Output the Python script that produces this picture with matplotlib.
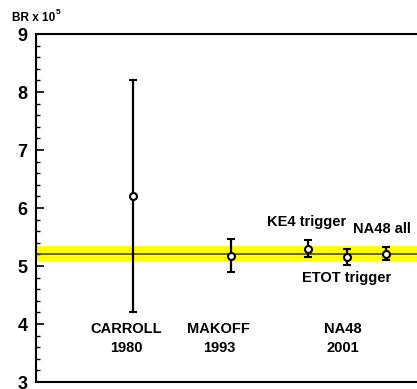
import matplotlib
matplotlib.use('Agg')
import matplotlib.pyplot as plt
from matplotlib.ticker import MultipleLocator

# Mesures du rapport d'embranchement (x 10^5)
names = ['CARROLL', 'MAKOFF', 'KE4 trigger', 'ETOT trigger', 'NA48 all']
xpos = [25.5, 51.1, 71.4, 81.6, 91.9]
br = [6.2, 5.18, 5.30, 5.16, 5.21]
err = [2.0, 0.29, 0.15, 0.14, 0.11]

# Moyenne mondiale (bande jaune)
mean = 5.215
mean_err = 0.125

# Étiquettes des expériences
groups = ['CARROLL\n1980', 'MAKOFF\n1993', 'NA48\n2001']
group_x = [23.6, 48.0, 80.6]
group_y = 3.75

plt.rcParams['font.family'] = ['Liberation Sans', 'DejaVu Sans']
plt.rcParams['font.weight'] = 'bold'

fig = plt.figure(figsize=(4.17, 3.89), dpi=100)
ax = fig.add_axes([36/417, 1 - 382/389, 1 - 36/417, (382 - 34)/389])

ax.axhspan(mean - mean_err, mean + mean_err, color='#ffff00', lw=0, zorder=1)
ax.axhline(mean, color='#4a4a2a', lw=1.2, zorder=2)

ax.errorbar(xpos, br, yerr=err, fmt='o', color='black', mfc='white', mec='black',
            ms=5, mew=1.5, elinewidth=1.6, capsize=3, capthick=1.6, zorder=3)

fs = 10.5
ax.text(71.1, 5.76, 'KE4 trigger', ha='center', va='center', fontsize=fs, fontweight='bold')
ax.text(81.5, 4.79, 'ETOT trigger', ha='center', va='center', fontsize=fs, fontweight='bold')
ax.text(90.7, 5.64, 'NA48 all', ha='center', va='center', fontsize=fs, fontweight='bold')

for g, gx in zip(groups, group_x):
    ax.text(gx, group_y, g, ha='center', va='center', fontsize=fs, fontweight='bold',
            linespacing=1.45)

ax.set_xlim(0, 100)
ax.set_ylim(3, 9)
ax.set_xticks([])
ax.yaxis.set_major_locator(MultipleLocator(1))
ax.yaxis.set_minor_locator(MultipleLocator(0.2))
ax.tick_params(axis='y', which='major', direction='in', length=6, width=1.2,
               labelsize=13, pad=6)
ax.tick_params(axis='y', which='minor', direction='in', length=3, width=1.0)
for lab in ax.get_yticklabels():
    lab.set_fontweight('bold')

ax.spines['right'].set_visible(False)
for s in ['left', 'top', 'bottom']:
    ax.spines[s].set_linewidth(1.5)

fig.text(12/417, 1 - 18/389, 'BR x 10', ha='left', va='center', fontsize=8.5, fontweight='bold')
fig.text(56/417, 1 - 12/389, '5', ha='left', va='center', fontsize=6, fontweight='bold')

fig.savefig('out.png', dpi=100)
